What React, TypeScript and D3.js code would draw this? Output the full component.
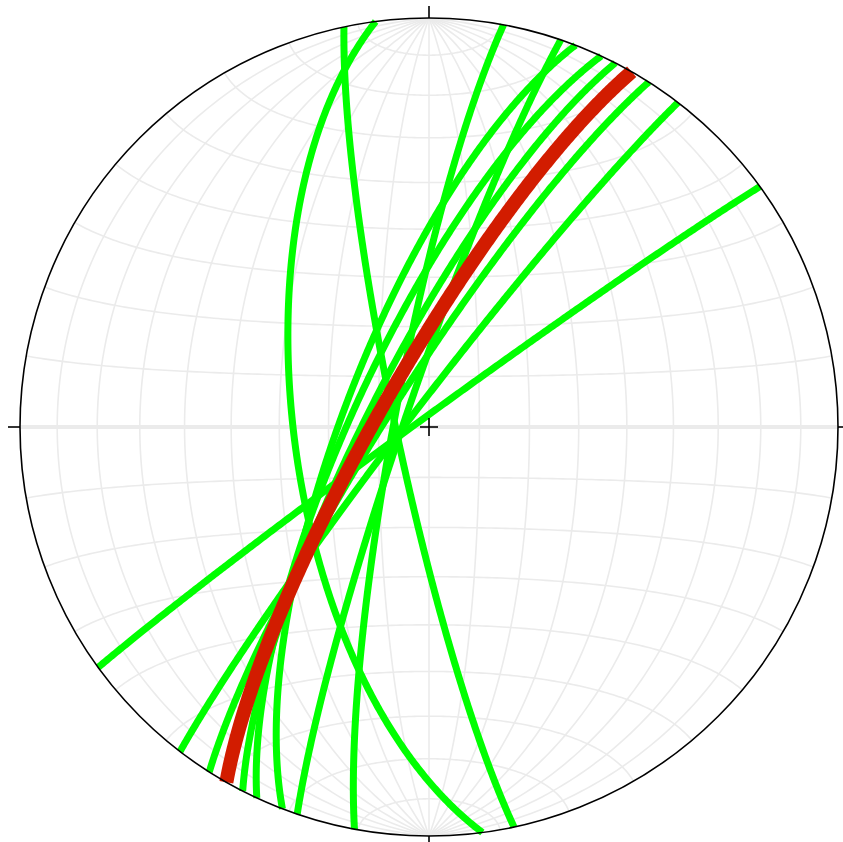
import React from "react";
import * as d3 from "d3";

// Great circles as (strike, dip) pairs, right-hand rule, degrees.
const planeStrikes = [234.0, 217.5, 212.5, 207.1, 204.9, 201.0, 198.8, 190.5, 172.5, 168.0];
const planeDips = [88, 86, 82, 78, 75, 73, 85, 83, 63, 83.5];

// Mean plane, drawn in red on top.
const meanStrike = [209.7];
const meanDip = [80];

// Net grid spacing in degrees.
const gridStep = 10;

const W = 843;
const H = 842;
const cx = 429;
const cy = 427;
const R = 409;

const rad = Math.PI / 180;

const xs = d3.scaleLinear().domain([-1, 1]).range([cx - R, cx + R]);
const ys = d3.scaleLinear().domain([-1, 1]).range([cy + R, cy - R]);

// Equal-area (Schmidt) lower-hemisphere projection of a unit vector (east, north, down).
function project(e: number, n: number, d: number): [number, number] {
  const k = 1 / Math.sqrt(1 + Math.max(0, d));
  return [xs(e * k), ys(n * k)];
}

const line = d3.line<[number, number]>().curve(d3.curveLinear);

function greatCircle(strike: number, dip: number): [number, number][] {
  const s = strike * rad;
  const dd = (strike + 90) * rad;
  const dp = dip * rad;
  const sv = [Math.sin(s), Math.cos(s), 0];
  const dv = [Math.cos(dp) * Math.sin(dd), Math.cos(dp) * Math.cos(dd), Math.sin(dp)];
  return d3.range(0, 180.001, 0.5).map((r) => {
    const c = Math.cos(r * rad);
    const sn = Math.sin(r * rad);
    return project(c * sv[0] + sn * dv[0], c * sv[1] + sn * dv[1], c * sv[2] + sn * dv[2]);
  });
}

// Grid: meridians converge on the N and S poles, parallels are small circles about the N-S axis.
function netPoint(lat: number, lon: number): [number, number] {
  const p = lat * rad;
  const l = lon * rad;
  return project(Math.cos(p) * Math.sin(l), Math.sin(p), Math.cos(p) * Math.cos(l));
}

function meridian(lon: number): [number, number][] {
  return d3.range(-90, 90.001, 1).map((lat) => netPoint(lat, lon));
}

function parallel(lat: number): [number, number][] {
  return d3.range(-90, 90.001, 1).map((lon) => netPoint(lat, lon));
}

export default function App() {
  const lons = d3.range(-90 + gridStep, 90, gridStep);
  const lats = d3.range(-90 + gridStep, 90, gridStep);
  const tick = 12;
  const cross = 9;
  return (
    <svg
      width={W}
      height={H}
      style={{ position: "absolute", left: 0, top: 0, background: "#fff" }}
    >
      <defs>
        <clipPath id="net">
          <circle cx={cx} cy={cy} r={R} />
        </clipPath>
      </defs>
      <g clipPath="url(#net)" fill="none" stroke="#ebebeb">
        {lons.map((l) => (
          <path key={"m" + l} d={line(meridian(l)) || ""} strokeWidth={1.6} />
        ))}
        {lats.map((l) => (
          <path key={"p" + l} d={line(parallel(l)) || ""} strokeWidth={l === 0 ? 4 : 1.6} />
        ))}
      </g>
      <g fill="none" strokeLinecap="butt" strokeLinejoin="round">
        {planeStrikes.map((s, i) => (
          <path key={"g" + i} d={line(greatCircle(s, planeDips[i])) || ""} stroke="#00ff00" strokeWidth={7} />
        ))}
        {meanStrike.map((s, i) => (
          <path key={"r" + i} d={line(greatCircle(s, meanDip[i])) || ""} stroke="#d21c00" strokeWidth={14} />
        ))}
      </g>
      <circle cx={cx} cy={cy} r={R} fill="none" stroke="#000" strokeWidth={1.6} />
      <g stroke="#000" strokeWidth={1.6}>
        <line x1={cx} x2={cx} y1={cy - R - tick} y2={cy - R} />
        <line x1={cx} x2={cx} y1={cy + R} y2={cy + R + tick} />
        <line x1={cx - R - tick} x2={cx - R} y1={cy} y2={cy} />
        <line x1={cx + R} x2={cx + R + tick} y1={cy} y2={cy} />
        <line x1={cx - cross} x2={cx + cross} y1={cy} y2={cy} />
        <line x1={cx} x2={cx} y1={cy - cross} y2={cy + cross} />
      </g>
    </svg>
  );
}
